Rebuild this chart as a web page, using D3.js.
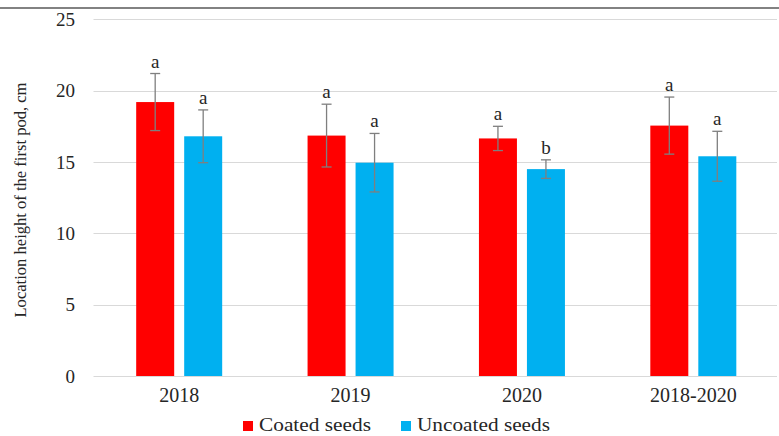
<!DOCTYPE html>
<html>
<head>
<meta charset="utf-8">
<script src="https://cdn.jsdelivr.net/npm/d3@7"></script>
<style>
  html, body { margin: 0; padding: 0; background: #fff; }
  svg { display: block; }
  svg text { font-family: "Liberation Serif", "Times New Roman", Tinos, "DejaVu Serif", serif !important; fill: #262626; }
</style>
</head>
<body>
<svg id="chart" width="779" height="436"></svg>
<script>
const categories = ["2018", "2019", "2020", "2018-2020"];
const seriesNames = ["Coated seeds", "Uncoated seeds"];
const coatedValues = [19.2, 16.85, 16.65, 17.55];
const coatedErrors = [2.0, 2.2, 0.85, 2.0];
const coatedLetters = ["a", "a", "a", "a"];
const uncoatedValues = [16.8, 14.95, 14.5, 15.4];
const uncoatedErrors = [1.85, 2.05, 0.65, 1.75];
const uncoatedLetters = ["a", "a", "b", "a"];
const yTicks = [0, 5, 10, 15, 20, 25];
const colors = ["#ff0000", "#00b0f0"];

const series = [
  { name: seriesNames[0], values: coatedValues, errors: coatedErrors, letters: coatedLetters, color: colors[0] },
  { name: seriesNames[1], values: uncoatedValues, errors: uncoatedErrors, letters: uncoatedLetters, color: colors[1] }
];

const svg = d3.select("#chart");
const W = 779, H = 436;
const mLeft = 93.5, mRight = 779, mTop = 19.3, mBottom = 376;

svg.append("line").attr("x1", 0).attr("x2", W).attr("y1", 8).attr("y2", 8)
  .attr("stroke", "#595959").attr("stroke-width", 1.5);

const y = d3.scaleLinear().domain([0, 25]).range([mBottom, mTop]);
const x0 = d3.scaleBand().domain(categories).range([mLeft, mRight]).paddingInner(0).paddingOuter(0);
const groupW = 86;
const x1 = d3.scaleBand().domain(seriesNames).range([0, groupW]).paddingInner(10 / 48).paddingOuter(0);

svg.append("g").selectAll("line").data(yTicks).join("line")
  .attr("x1", mLeft).attr("x2", mRight - 2)
  .attr("y1", d => Math.round(y(d)) + 0.5).attr("y2", d => Math.round(y(d)) + 0.5)
  .attr("stroke", "#d9d9d9").attr("stroke-width", 1);

const yAxis = d3.axisLeft(y).tickValues(yTicks).tickSize(0).tickPadding(0);
const yg = svg.append("g").attr("transform", "translate(75,0)").call(yAxis);
yg.attr("font-family", null).attr("font-size", null);
yg.select(".domain").remove();
yg.selectAll("text").style("font-size", "19px").attr("fill", "#262626");

svg.append("text")
  .attr("transform", "translate(26,200) rotate(-90)")
  .attr("text-anchor", "middle")
  .style("font-size", "17px")
  .attr("textLength", 235).attr("lengthAdjust", "spacingAndGlyphs")
  .text("Location height of the first pod, cm");

const groups = svg.append("g").selectAll("g").data(categories).join("g")
  .attr("transform", d => `translate(${x0(d) + x0.bandwidth() / 2 - groupW / 2},0)`);

groups.each(function(cat, i) {
  const g = d3.select(this);
  series.forEach(s => {
    const v = s.values[i], e = s.errors[i];
    const bx = x1(s.name), bw = x1.bandwidth();
    g.append("rect").attr("x", bx).attr("y", y(v)).attr("width", bw).attr("height", y(0) - y(v))
      .attr("fill", s.color);
    const cx = bx + bw / 2;
    g.append("line").attr("x1", cx).attr("x2", cx).attr("y1", y(v + e)).attr("y2", y(v - e))
      .attr("stroke", "#7f7f7f").attr("stroke-width", 1.3);
    [v + e, v - e].forEach(t => {
      g.append("line").attr("x1", cx - 5).attr("x2", cx + 5).attr("y1", y(t)).attr("y2", y(t))
        .attr("stroke", "#7f7f7f").attr("stroke-width", 1.3);
    });
    g.append("text").attr("x", cx).attr("y", y(v + e) - 6).attr("text-anchor", "middle")
      .style("font-size", "19px").text(s.letters[i]);
  });
});

const xAxis = d3.axisBottom(x0).tickSize(0).tickPadding(0);
const xg = svg.append("g").attr("transform", `translate(0,${mBottom})`).call(xAxis);
xg.attr("font-family", null).attr("font-size", null);
xg.select(".domain").remove();
xg.selectAll("text").attr("dy", null).attr("y", 26).style("font-size", "20px").attr("fill", "#262626");

const legend = svg.append("g");
const legendItems = [
  { name: seriesNames[0], color: colors[0], x: 243, len: 112 },
  { name: seriesNames[1], color: colors[1], x: 401, len: 133 }
];
legendItems.forEach(it => {
  legend.append("rect").attr("x", it.x).attr("y", 421).attr("width", 10).attr("height", 10).attr("fill", it.color);
  legend.append("text").attr("x", it.x + 16).attr("y", 431).style("font-size", "19px")
    .attr("textLength", it.len).attr("lengthAdjust", "spacingAndGlyphs").text(it.name);
});
</script>
</body>
</html>
